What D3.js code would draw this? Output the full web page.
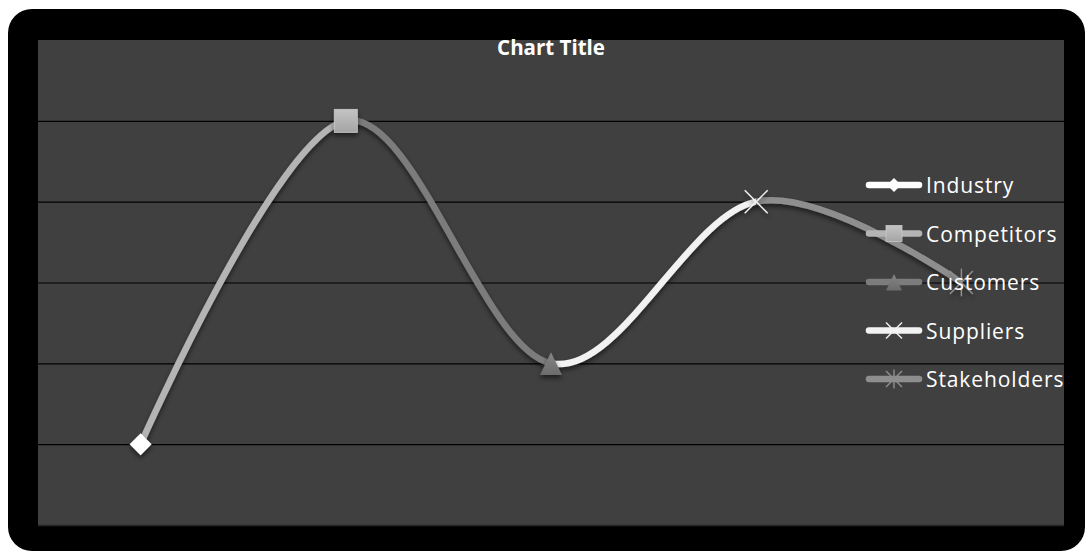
<!DOCTYPE html>
<html>
<head>
<meta charset="utf-8">
<script src="https://cdn.jsdelivr.net/npm/d3@7"></script>
<style>
  html, body { margin: 0; padding: 0; background: #fff; }
  svg { display: block; }
</style>
</head>
<body>
<svg id="chart" width="1085" height="551"></svg>
<script>
// Chart data
const categories = ["Industry", "Competitors", "Customers", "Suppliers", "Stakeholders"];
const values = [1, 5, 2, 4, 3];
const pointColors = ["#ffffff", "#b4b4b4", "#7c7c7c", "#f2f2f2", "#8e8e8e"];
const markerShapes = ["diamond", "square", "triangle", "cross", "star"];
const yTicks = [0, 1, 2, 3, 4, 5, 6];
const chartTitle = "Chart Title";

const svg = d3.select("#chart");
const W = 1085, H = 551;
const plot = { left: 38, right: 1064, top: 40, bottom: 525 };

// Outer frame
svg.append("rect")
  .attr("x", 8).attr("y", 9).attr("width", W - 8).attr("height", H - 9)
  .attr("rx", 24).attr("ry", 24).attr("fill", "#000");

const defs = svg.append("defs");
const shadow = defs.append("filter").attr("id", "shadow")
  .attr("x", "-50%").attr("y", "-50%").attr("width", "200%").attr("height", "200%");
shadow.append("feDropShadow").attr("dx", 0).attr("dy", 3).attr("stdDeviation", 2.5)
  .attr("flood-color", "#000").attr("flood-opacity", 0.55);

const sqGrad = defs.append("linearGradient").attr("id", "sqGrad")
  .attr("x1", 0).attr("y1", 0).attr("x2", 0).attr("y2", 1);
sqGrad.append("stop").attr("offset", 0).attr("stop-color", "#c4c4c4");
sqGrad.append("stop").attr("offset", 1).attr("stop-color", "#a4a4a4");
const triGrad = defs.append("linearGradient").attr("id", "triGrad")
  .attr("x1", 0).attr("y1", 0).attr("x2", 0).attr("y2", 1);
triGrad.append("stop").attr("offset", 0).attr("stop-color", "#858585");
triGrad.append("stop").attr("offset", 1).attr("stop-color", "#6c6c6c");

// Plot area
svg.append("rect")
  .attr("x", plot.left).attr("y", plot.top)
  .attr("width", plot.right - plot.left).attr("height", plot.bottom - plot.top)
  .attr("fill", "#404040");

const x = d3.scalePoint().domain(categories).range([plot.left, plot.right]).padding(0.5);
const y = d3.scaleLinear().domain([0, 6]).range([plot.bottom, plot.top]);

// Horizontal gridlines
const yAxis = d3.axisLeft(y).tickValues(yTicks.filter(t => t > 0 && t < 6))
  .tickSize(-(plot.right - plot.left)).tickFormat("");
const gy = svg.append("g").attr("transform", `translate(${plot.left},0)`).call(yAxis);
gy.select(".domain").remove();
gy.selectAll(".tick line").attr("stroke", "#000").attr("stroke-width", 1.2);

svg.append("line")
  .attr("x1", plot.left).attr("x2", plot.right)
  .attr("y1", y(0) + 0.5).attr("y2", y(0) + 0.5)
  .attr("stroke", "#262626").attr("stroke-width", 1.5);

// Title
svg.append("text")
  .attr("x", 551).attr("y", 55)
  .attr("text-anchor", "middle")
  .attr("font-family", "'Open Sans', sans-serif").attr("font-weight", "bold")
  .attr("font-size", 20.5).attr("fill", "#fff")
  .text(chartTitle);

// Smoothed line, coloured by point (each segment takes the colour of its end point)
const pts = categories.map((c, i) => ({ c, v: values[i], i }));
const line = d3.line().x(d => x(d.c)).y(d => y(d.v)).curve(d3.curveCardinal.tension(0));
const pathD = line(pts);

for (let i = 1; i < pts.length; i++) {
  const id = "seg" + i;
  defs.append("clipPath").attr("id", id).append("rect")
    .attr("x", x(categories[i - 1])).attr("y", 0)
    .attr("width", x(categories[i]) - x(categories[i - 1])).attr("height", H);
  svg.append("path")
    .attr("d", pathD)
    .attr("clip-path", `url(#${id})`)
    .attr("fill", "none")
    .attr("stroke", pointColors[i])
    .attr("stroke-width", 6.5)
    .attr("filter", "url(#shadow)");
}

// Marker drawing
function drawMarker(g, shape, color, s) {
  if (shape === "diamond") {
    g.append("path").attr("d", `M0,${-s}L${s},0L0,${s}L${-s},0Z`).attr("fill", color);
  } else if (shape === "square") {
    g.append("rect").attr("x", -s).attr("y", -s).attr("width", 2 * s).attr("height", 2 * s)
      .attr("fill", "url(#sqGrad)").attr("stroke", "#c8c8c8").attr("stroke-width", 0.8);
  } else if (shape === "triangle") {
    g.append("path").attr("d", `M0,${-s}L${s},${s * 1.05}L${-s},${s * 1.05}Z`)
      .attr("fill", "url(#triGrad)");
  } else if (shape === "cross") {
    g.append("path").attr("d", `M${-s},${-s}L${s},${s}M${s},${-s}L${-s},${s}`)
      .attr("stroke", color).attr("stroke-width", 1.4).attr("fill", "none");
  } else if (shape === "star") {
    g.append("path").attr("d", `M${-s},${-s}L${s},${s}M${s},${-s}L${-s},${s}M0,${-s * 1.2}L0,${s * 1.2}`)
      .attr("stroke", color).attr("stroke-width", 1.4).attr("fill", "none");
  }
}

const markerSize = [11, 11.5, 11, 11.5, 11.5];
pts.forEach((d, i) => {
  const g = svg.append("g")
    .attr("transform", `translate(${x(d.c)},${y(d.v)})`)
    .attr("filter", "url(#shadow)");
  drawMarker(g, markerShapes[i], pointColors[i], markerSize[i]);
});

// Legend
const legendY = d3.scalePoint().domain(categories).range([185, 379]);
const legendSize = [7, 8, 8, 8, 8];
categories.forEach((c, i) => {
  const ly = legendY(c);
  const g = svg.append("g").attr("transform", `translate(0,${ly})`);
  g.append("line").attr("x1", 869).attr("x2", 919).attr("y1", 0).attr("y2", 0)
    .attr("stroke", pointColors[i]).attr("stroke-width", 6.5).attr("stroke-linecap", "round");
  const mg = g.append("g").attr("transform", "translate(894,0)");
  drawMarker(mg, markerShapes[i], pointColors[i], legendSize[i]);
  g.append("text").attr("x", 926).attr("y", 8)
    .attr("font-family", "'Open Sans', sans-serif").attr("font-size", 21)
    .attr("letter-spacing", 0.9)
    .attr("fill", "#fff").text(c);
});
</script>
</body>
</html>
